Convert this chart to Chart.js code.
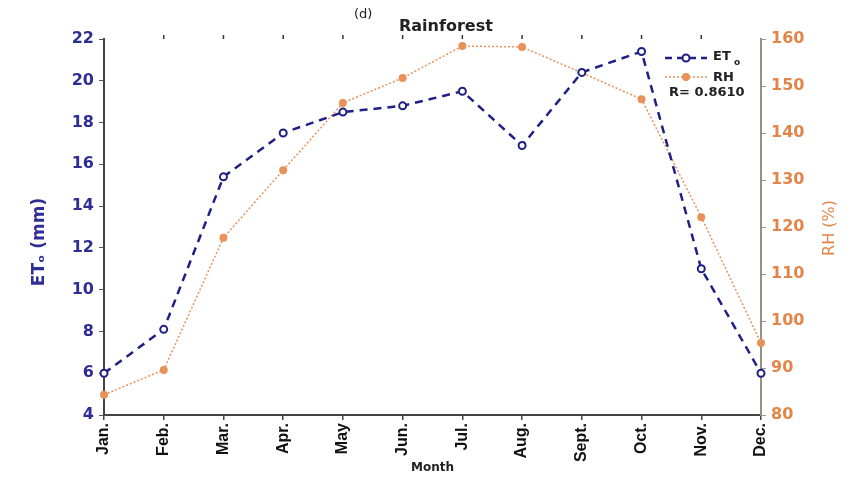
<!DOCTYPE html>
<html>
<head>
<meta charset="utf-8">
<script src="https://cdn.jsdelivr.net/npm/chart.js@4/dist/chart.umd.min.js"></script>
<style>
  html, body { margin: 0; padding: 0; background: #fff; }
  #wrap { width: 866px; height: 483px; position: relative; }
</style>
</head>
<body>
<div id="wrap"><canvas id="chart-main" width="866" height="483"></canvas></div>
<script>
/* global Chart */

const months = ["Jan.", "Feb.", "Mar.", "Apr.", "May", "Jun.", "Jul.", "Aug.", "Sept.", "Oct.", "Nov.", "Dec."];
const etoValues = [6.0, 8.1, 15.4, 17.5, 18.5, 18.8, 19.5, 16.9, 20.4, 21.4, 11.0, 6.0];
const rhValues = [84.3, 89.6, 117.7, 132.1, 146.4, 151.7, 158.5, 158.3, 152.8, 147.2, 122.1, 95.3];
const leftTicks = [4, 6, 8, 10, 12, 14, 16, 18, 20, 22];
const rightTicks = [80, 90, 100, 110, 120, 130, 140, 150, 160];

const BLUE = "#1f1f85";
const BLUE_TXT = "#2e2e96";
const ORANGE = "#e8925a";
const ORANGE_TXT = "#e38548";

const overlay = {
  id: "overlay",
  afterDraw(chart) {
    const ctx = chart.ctx;
    const a = chart.chartArea;
    const x = chart.scales.x;
    ctx.save();

    // small tick marks along the top edge
    ctx.strokeStyle = "#333";
    ctx.lineWidth = 1.5;
    months.forEach((m, i) => {
      if (i === 0 || i === months.length - 1) return;
      const px = x.getPixelForValue(i);
      ctx.beginPath();
      ctx.moveTo(px, a.top - 4);
      ctx.lineTo(px, a.top);
      ctx.stroke();
    });

    // panel title
    ctx.fillStyle = "#222";
    ctx.textBaseline = "middle";
    ctx.font = "13px 'DejaVu Sans'";
    ctx.textAlign = "left";
    ctx.fillText("(d)", 354, 15);
    ctx.font = "bold 16px 'DejaVu Sans'";
    ctx.fillText("Rainforest", 399, 27);

    // y axis titles (both read bottom to top)
    ctx.font = "bold 17px 'DejaVu Sans'";
    ctx.fillStyle = BLUE_TXT;
    ctx.translate(40, 242);
    ctx.rotate(-Math.PI / 2);
    ctx.textAlign = "center";
    ctx.fillText("ET\u2092 (mm)", 0, 0);
    ctx.setTransform(1, 0, 0, 1, 0, 0);
    ctx.font = "16px 'DejaVu Sans'";
    ctx.fillStyle = ORANGE_TXT;
    ctx.translate(830, 228);
    ctx.rotate(-Math.PI / 2);
    ctx.fillText("RH (%)", 0, 0);
    ctx.setTransform(1, 0, 0, 1, 0, 0);

    // legend
    const lx = 665, lw = 42;
    ctx.lineWidth = 2.5;
    ctx.strokeStyle = BLUE;
    ctx.setLineDash([7, 5]);
    ctx.beginPath();
    ctx.moveTo(lx, 58);
    ctx.lineTo(lx + lw, 58);
    ctx.stroke();
    ctx.setLineDash([]);
    ctx.fillStyle = "#fff";
    ctx.beginPath();
    ctx.arc(lx + lw / 2, 58, 3.5, 0, Math.PI * 2);
    ctx.fill();
    ctx.lineWidth = 2;
    ctx.stroke();

    ctx.lineWidth = 1.5;
    ctx.strokeStyle = ORANGE;
    ctx.setLineDash([2, 2]);
    ctx.beginPath();
    ctx.moveTo(lx, 77);
    ctx.lineTo(lx + lw, 77);
    ctx.stroke();
    ctx.setLineDash([]);
    ctx.fillStyle = ORANGE;
    ctx.beginPath();
    ctx.arc(lx + lw / 2, 77, 4, 0, Math.PI * 2);
    ctx.fill();

    ctx.fillStyle = "#222";
    ctx.textAlign = "left";
    ctx.font = "bold 13px 'DejaVu Sans'";
    ctx.fillText("ET", 713, 57);
    ctx.font = "bold 9px 'DejaVu Sans'";
    ctx.fillText("o", 734, 63);
    ctx.font = "bold 13px 'DejaVu Sans'";
    ctx.fillText("RH", 713, 78);
    ctx.font = "bold 13px 'DejaVu Sans'";
    ctx.fillText("R= 0.8610", 669, 93);
    ctx.restore();
  },
};

const ctx = document.getElementById("chart-main").getContext("2d");
new Chart(ctx, {
  type: "line",
  data: {
    labels: months,
    datasets: [
      {
        label: "ETo",
        data: etoValues,
        yAxisID: "y",
        borderColor: BLUE,
        borderWidth: 2.5,
        borderDash: [8, 6],
        pointRadius: 3.5,
        pointBorderWidth: 2,
        pointBackgroundColor: "#fff",
        pointBorderColor: BLUE,
        tension: 0,
        clip: false,
      },
      {
        label: "RH",
        data: rhValues,
        yAxisID: "y1",
        borderColor: ORANGE,
        borderWidth: 1.5,
        borderDash: [2, 2],
        pointRadius: 4,
        pointBorderWidth: 0,
        pointBackgroundColor: ORANGE,
        pointBorderColor: ORANGE,
        tension: 0,
        clip: false,
      },
    ],
  },
  options: {
    responsive: false,
    animation: false,
    layout: { padding: { top: 39, left: 0, right: 0, bottom: 0 } },
    plugins: { legend: { display: false }, tooltip: { enabled: false } },
    scales: {
      x: {
        offset: false,
        grid: { display: true, drawOnChartArea: false, drawTicks: true, tickLength: 5, color: "#444", lineWidth: 1.5 },
        border: { display: true, color: "#444", width: 2 },
        ticks: {
          minRotation: 90,
          maxRotation: 90,
          padding: 3,
          color: "#111",
          font: { family: "'Liberation Sans Narrow', 'Liberation Sans', sans-serif", size: 16, weight: "bold" },
        },
        title: {
          display: true,
          text: "Month",
          color: "#222",
          padding: { top: 2, bottom: 8 },
          font: { family: "'DejaVu Sans'", size: 12, weight: "bold" },
        },
        afterFit(scale) { scale.height = 68; },
      },
      y: {
        position: "left",
        min: 4,
        max: 22,
        afterBuildTicks(scale) { scale.ticks = leftTicks.map((v) => ({ value: v })); },
        grid: { drawOnChartArea: false, drawTicks: true, tickLength: 5, color: "#555", lineWidth: 1 },
        border: { display: true, color: "#444", width: 2 },
        ticks: {
          color: BLUE_TXT,
          padding: 5,
          font: { family: "'DejaVu Sans'", size: 16, weight: "bold" },
        },
        afterFit(scale) { scale.width = 104; },
      },
      y1: {
        position: "right",
        min: 80,
        max: 160,
        afterBuildTicks(scale) { scale.ticks = rightTicks.map((v) => ({ value: v })); },
        grid: { drawOnChartArea: false, drawTicks: true, tickLength: 5, color: "#999", lineWidth: 1 },
        border: { display: true, color: "#9a9080", width: 2 },
        ticks: {
          color: ORANGE_TXT,
          padding: 5,
          font: { family: "'DejaVu Sans'", size: 16, weight: "bold" },
        },
        afterFit(scale) { scale.width = 105; },
      },
    },
  },
  plugins: [overlay],
});
</script>
</body>
</html>
